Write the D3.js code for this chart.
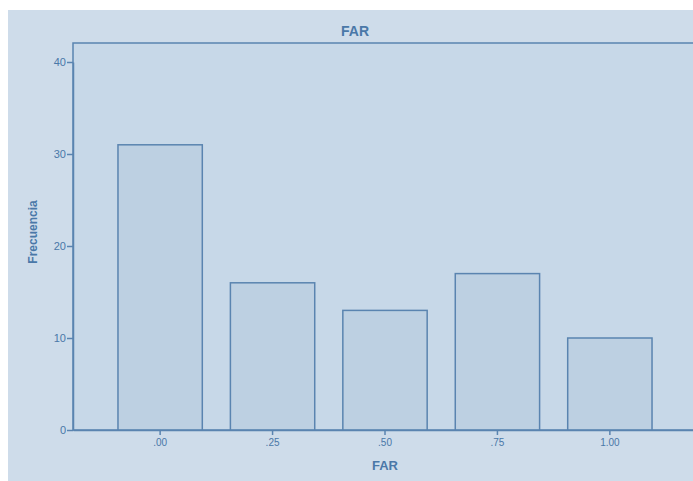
<!DOCTYPE html>
<html><head><meta charset="utf-8">
<script src="https://cdn.jsdelivr.net/npm/d3@7"></script>
<style>html,body{margin:0;padding:0;background:#fff;overflow:hidden}</style>
</head><body>
<script>
const categories = [".00", ".25", ".50", ".75", "1.00"];
const frequencies = [31, 16, 13, 17, 10];
const yTicks = [0, 10, 20, 30, 40];

const W = 693, H = 481;
const svg = d3.select("body").append("svg").attr("width", W).attr("height", H);
const textColor = "#4a78a8", lineColor = "#5a84b0";

svg.append("rect").attr("x", 8).attr("y", 10).attr("width", W - 8).attr("height", H - 10).attr("fill", "#cedcea");

const mLeft = 73, mTop = 43, mBottom = 430, mRight = 697;
const x = d3.scaleBand().domain(categories).range([mLeft, mRight]).paddingInner(0.25).paddingOuter(0.4);
const y = d3.scaleLinear().domain([0, 40]).range([mBottom, 62]);

svg.append("rect").attr("x", mLeft).attr("y", mTop).attr("width", mRight - mLeft).attr("height", mBottom - mTop)
  .attr("fill", "#c7d8e8").attr("stroke", lineColor).attr("stroke-width", 1.5);

svg.append("g").selectAll("rect").data(frequencies).join("rect")
  .attr("x", (d, i) => x(categories[i]))
  .attr("y", d => y(d))
  .attr("width", x.bandwidth())
  .attr("height", d => y(0) - y(d))
  .attr("fill", "#bdd0e2").attr("stroke", lineColor).attr("stroke-width", 1.5);

const yAxis = svg.append("g").attr("transform", `translate(${mLeft},0)`)
  .call(d3.axisLeft(y).tickValues(yTicks).tickSize(6).tickSizeOuter(0));
const xAxis = svg.append("g").attr("transform", `translate(0,${mBottom})`)
  .call(d3.axisBottom(x).tickSize(5).tickSizeOuter(0));
[yAxis, xAxis].forEach(g => {
  g.select(".domain").attr("stroke", lineColor).attr("stroke-width", 1.5);
  g.selectAll(".tick line").attr("stroke", lineColor).attr("stroke-width", 1.5);
  g.selectAll(".tick text").attr("fill", textColor).attr("font-family", "Liberation Sans, Arial, sans-serif").attr("font-size", 10);
});
yAxis.selectAll(".tick text").attr("x", -7).attr("font-size", 11);
xAxis.selectAll(".tick text").attr("y", 9);

svg.append("text").attr("x", 355).attr("y", 36).attr("text-anchor", "middle")
  .attr("font-family", "Liberation Sans, Arial, sans-serif").attr("font-weight", "bold").attr("font-size", 14)
  .attr("fill", textColor).text("FAR");
svg.append("text").attr("x", 385).attr("y", 470).attr("text-anchor", "middle")
  .attr("font-family", "Liberation Sans, Arial, sans-serif").attr("font-weight", "bold").attr("font-size", 13)
  .attr("fill", textColor).text("FAR");
svg.append("text").attr("transform", "translate(37,232) rotate(-90)").attr("text-anchor", "middle")
  .attr("font-family", "Liberation Sans, Arial, sans-serif").attr("font-weight", "bold").attr("font-size", 12)
  .attr("fill", textColor).text("Frecuencia");
</script>
</body></html>
